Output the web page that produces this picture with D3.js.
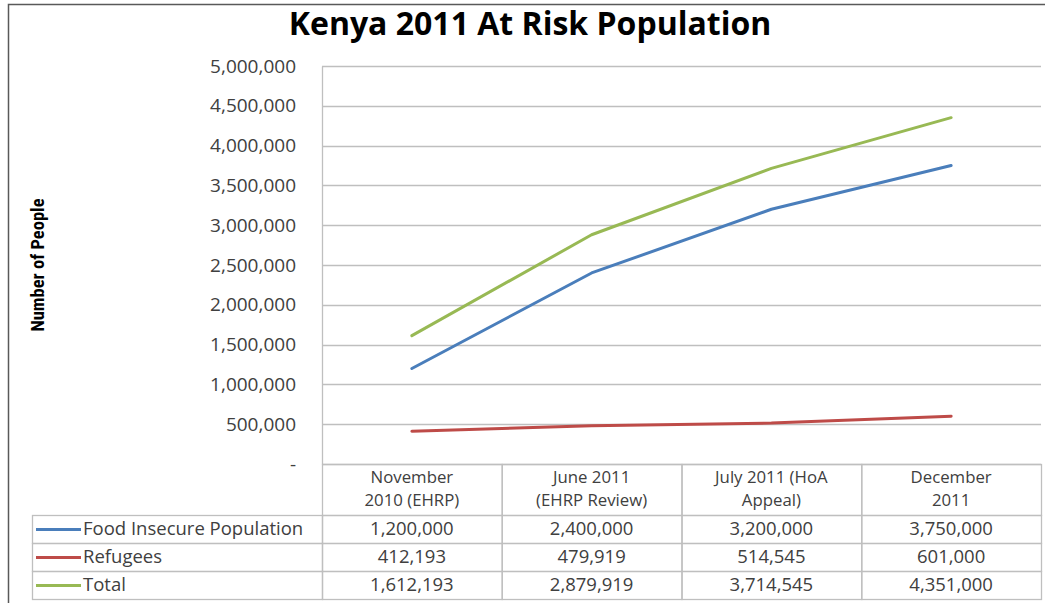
<!DOCTYPE html>
<html>
<head>
<meta charset="utf-8">
<script src="https://cdn.jsdelivr.net/npm/d3@7"></script>
<style>
  body { margin: 0; background: #fff; }
  svg { font-family: "Open Sans", Lato, sans-serif; }
</style>
</head>
<body>
<div id="chart"></div>
<script>
// data
var periods = [["November", "2010 (EHRP)"], ["June 2011", "(EHRP Review)"], ["July 2011 (HoA", "Appeal)"], ["December", "2011"]];
var seriesNames = ["Food Insecure Population", "Refugees", "Total"];
var foodInsecure = [1200000, 2400000, 3200000, 3750000];
var refugees = [412193, 479919, 514545, 601000];
var total = [1612193, 2879919, 3714545, 4351000];
var yTicks = [0, 500000, 1000000, 1500000, 2000000, 2500000, 3000000, 3500000, 4000000, 4500000, 5000000];
var colors = ["#4a7ebb", "#be4b48", "#98b954"];

var series = [foodInsecure, refugees, total];

var W = 1045, H = 603;
var plotLeft = 322, plotRight = 1041, plotTop = 66, plotBottom = 464;
var headerH = 51, rowH = 28, legendLeft = 32;
var textColor = "#404040", gridColor = "#bfbfbf";

var svg = d3.select("#chart")
    .append("svg")
    .attr("width", W)
    .attr("height", H);

// outer frame
svg.append("rect")
    .attr("x", 8.5).attr("y", 4.5)
    .attr("width", W + 10).attr("height", H + 10)
    .attr("fill", "none")
    .attr("stroke", "#595959")
    .attr("stroke-width", 1.5);

// title
svg.append("text")
    .attr("x", 530)
    .attr("y", 35)
    .attr("text-anchor", "middle")
    .style("font-size", "32px")
    .style("font-weight", "bold")
    .attr("fill", "#000")
    .text("Kenya 2011 At Risk Population");

// scales
var x = d3.scaleBand()
    .domain(d3.range(periods.length))
    .range([plotLeft, plotRight]);

var y = d3.scaleLinear()
    .domain([0, 5000000])
    .range([plotBottom, plotTop]);

// gridlines
svg.append("g")
    .selectAll("line")
    .data(yTicks)
    .enter()
    .append("line")
    .attr("x1", plotLeft)
    .attr("x2", plotRight)
    .attr("y1", function (d) { return Math.round(y(d)) + 0.5; })
    .attr("y2", function (d) { return Math.round(y(d)) + 0.5; })
    .attr("stroke", gridColor)
    .attr("stroke-width", 1.3);

// Y axis
var yAxis = svg.append("g")
    .attr("transform", "translate(" + plotLeft + ",0)")
    .call(d3.axisLeft(y)
        .tickValues(yTicks)
        .tickSize(0)
        .tickPadding(26)
        .tickFormat(function (d) { return d === 0 ? "-" : d3.format(",")(d); }));
yAxis.select(".domain")
    .attr("stroke", gridColor)
    .attr("stroke-width", 1.3);
yAxis.selectAll("text")
    .attr("fill", textColor)
    .style("font-size", "19px")
    .style("font-family", "'Open Sans', sans-serif");

// Y axis label
svg.append("text")
    .attr("transform", "translate(44,265) rotate(-90)")
    .attr("text-anchor", "middle")
    .style("font-family", "'Liberation Sans Narrow', 'Roboto Condensed', sans-serif")
    .style("font-size", "18.5px")
    .style("font-weight", "bold")
    .attr("fill", "#000")
    .text("Number of People");

// lines
var line = d3.line()
    .x(function (d, i) { return x(i) + x.bandwidth() / 2; })
    .y(function (d) { return y(d); });

svg.append("g")
    .selectAll("path")
    .data(series)
    .enter()
    .append("path")
    .attr("d", line)
    .attr("fill", "none")
    .attr("stroke", function (d, i) { return colors[i]; })
    .attr("stroke-width", 3)
    .attr("stroke-linejoin", "round")
    .attr("stroke-linecap", "round");

// data table
var table = svg.append("g");

// header cells
table.selectAll(".hdr")
    .data(periods)
    .enter()
    .append("rect")
    .attr("x", function (d, i) { return x(i) + 0.5; })
    .attr("y", plotBottom + 0.5)
    .attr("width", x.bandwidth())
    .attr("height", headerH)
    .attr("fill", "none")
    .attr("stroke", gridColor)
    .attr("stroke-width", 1.3);

table.selectAll(".hdrText")
    .data(periods)
    .enter()
    .append("text")
    .attr("x", function (d, i) { return x(i) + x.bandwidth() / 2; })
    .attr("y", plotBottom + 19)
    .attr("text-anchor", "middle")
    .attr("fill", textColor)
    .style("font-size", "16.8px")
    .each(function (d) {
        var t = d3.select(this);
        t.append("tspan").attr("x", t.attr("x")).text(d[0]);
        t.append("tspan").attr("x", t.attr("x")).attr("dy", 23.2).text(d[1]);
    });

// value rows
var rows = table.selectAll(".row")
    .data(series)
    .enter()
    .append("g")
    .attr("transform", function (d, i) { return "translate(0," + (plotBottom + headerH + i * rowH) + ")"; });

rows.append("rect")
    .attr("x", legendLeft + 0.5)
    .attr("y", 0.5)
    .attr("width", plotLeft - legendLeft)
    .attr("height", rowH)
    .attr("fill", "none")
    .attr("stroke", gridColor)
    .attr("stroke-width", 1.3);

rows.selectAll(".cell")
    .data(function (d) { return d; })
    .enter()
    .append("rect")
    .attr("x", function (d, i) { return x(i) + 0.5; })
    .attr("y", 0.5)
    .attr("width", x.bandwidth())
    .attr("height", rowH)
    .attr("fill", "none")
    .attr("stroke", gridColor)
    .attr("stroke-width", 1.3);

rows.selectAll(".val")
    .data(function (d) { return d; })
    .enter()
    .append("text")
    .attr("x", function (d, i) { return x(i) + x.bandwidth() / 2; })
    .attr("y", 20)
    .attr("text-anchor", "middle")
    .attr("fill", textColor)
    .style("font-size", "18.5px")
    .text(function (d) { return d3.format(",")(d); });

// legend keys
rows.append("line")
    .attr("x1", 36)
    .attr("x2", 81)
    .attr("y1", 14.5)
    .attr("y2", 14.5)
    .attr("stroke", function (d, i) { return colors[i]; })
    .attr("stroke-width", 3);

rows.append("text")
    .attr("x", 83)
    .attr("y", 20)
    .attr("fill", textColor)
    .style("font-size", "18.5px")
    .text(function (d, i) { return seriesNames[i]; });
</script>
</body>
</html>
